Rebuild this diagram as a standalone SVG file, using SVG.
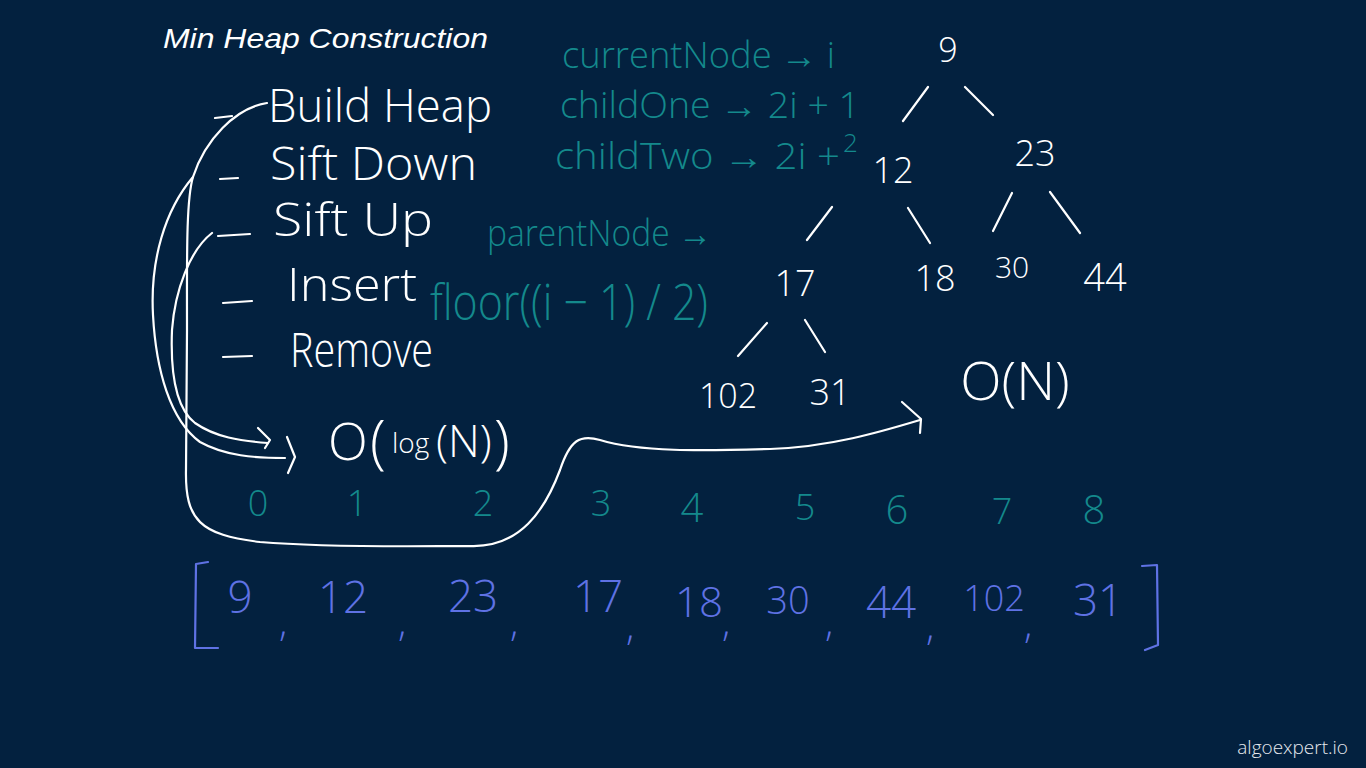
<svg xmlns="http://www.w3.org/2000/svg" width="1366" height="768" viewBox="0 0 1366 768">
<defs>
<style>
.bg{fill:#03213f}
.t{font-family:"Open Sans","Liberation Sans",sans-serif;font-weight:300}
.w{fill:#ffffff}
.tl{fill:#14898c}
.bl{fill:#5f72e4}
.st{stroke:#ffffff;stroke-width:2.2;fill:none;stroke-linecap:round;stroke-linejoin:round}
.stb{stroke:#5f72e4;stroke-width:2.2;fill:none;stroke-linecap:round;stroke-linejoin:round}
.mid{text-anchor:middle}
</style>
</defs>
<rect class="bg" x="0" y="0" width="1366" height="768"/>

<g id="title">
<text class="w" x="163" y="48" font-family="Liberation Sans, Arial, sans-serif" font-style="italic" font-size="28" textLength="325" lengthAdjust="spacingAndGlyphs">Min Heap Construction</text>
</g>

<g id="ops">
<path class="st" d="M215,118 L232,116 M220,179 L238,178 M218,236 L250,234 M223,303 L252,301 M223,357 L252,356"/>
<text class="t w" x="268" y="122" font-size="46" textLength="224" lengthAdjust="spacingAndGlyphs">Build Heap</text>
<text class="t w" x="270" y="180" font-size="46" textLength="207" lengthAdjust="spacingAndGlyphs">Sift Down</text>
<text class="t w" x="273" y="236" font-size="46" textLength="160" lengthAdjust="spacingAndGlyphs">Sift Up</text>
<text class="t w" x="287" y="301" font-size="46" textLength="130" lengthAdjust="spacingAndGlyphs">Insert</text>
<text class="t w" x="290" y="367" font-size="48" textLength="143" lengthAdjust="spacingAndGlyphs">Remove</text>
</g>

<g id="formulas">
<text class="t tl" x="562" y="68" font-size="36" textLength="273" lengthAdjust="spacingAndGlyphs">currentNode → i</text>
<text class="t tl" x="560" y="118" font-size="36" textLength="300" lengthAdjust="spacingAndGlyphs">childOne → 2i + 1</text>
<text class="t tl" x="555" y="169" font-size="36" textLength="285" lengthAdjust="spacingAndGlyphs">childTwo → 2i +</text>
<text class="t tl" x="843" y="152" font-size="26">2</text>
<text class="t tl" x="487" y="246" font-size="36" textLength="225" lengthAdjust="spacingAndGlyphs">parentNode →</text>
<text class="t tl" x="430" y="320" font-size="50" textLength="278" lengthAdjust="spacingAndGlyphs">floor((i − 1) / 2)</text>
</g>

<g id="tree-edges">
<path class="st" d="M903,121 L928,87 M965,87 L993,115 M807,240 L832,207 M908,208 L930,243 M993,231 L1012,193 M1050,192 L1080,233 M738,356 L767,323 M805,320 L825,352"/>
</g>
<g id="node-9"><text class="t w mid" x="948" y="62" font-size="34">9</text></g>
<g id="node-12"><text class="t w mid" x="893" y="183" font-size="36">12</text></g>
<g id="node-23"><text class="t w mid" x="1035" y="166" font-size="36">23</text></g>
<g id="node-17"><text class="t w mid" x="795" y="296" font-size="36">17</text></g>
<g id="node-18"><text class="t w mid" x="935" y="291" font-size="36">18</text></g>
<g id="node-30"><text class="t w mid" x="1012" y="278" font-size="30">30</text></g>
<g id="node-44"><text class="t w mid" x="1105" y="291" font-size="38">44</text></g>
<g id="node-102"><text class="t w mid" x="728" y="408" font-size="34">102</text></g>
<g id="node-31"><text class="t w mid" x="830" y="405" font-size="36">31</text></g>

<g id="complexity-n"><text class="t w mid" x="1015" y="400" font-size="54">O(N)</text></g>
<g id="complexity-log">
<text class="t w" x="328" y="460" font-size="52">O</text>
<text class="t w" x="370" y="462" font-size="58">(</text>
<text class="t w" x="392" y="453" font-size="28">log</text>
<text class="t w" x="436" y="457" font-size="44">(N)</text>
<text class="t w" x="494" y="462" font-size="58">)</text>
</g>

<g id="connectors">
<path class="st" d="M267,103 C235,108 205,140 193,177 C186,200 187,260 187,330 L186,470 C185,520 200,535 260,542 C330,548 420,546 470,546 C520,548 545,510 560,470 C570,440 580,434 600,440 C640,452 700,451 770,449 C830,447 880,432 920,420"/>
<path class="st" d="M902,402 L921,419 L920,433"/>
<path class="st" d="M193,177 C165,210 150,260 153,315 C156,370 170,420 200,442 C225,456 255,458 285,458"/>
<path class="st" d="M287,437 L295,457 L288,473"/>
<path class="st" d="M212,233 C190,250 175,290 172,330 C170,380 178,410 195,423 C215,437 240,441 268,443"/>
<path class="st" d="M258,428 L270,440 L265,448"/>
</g>

<g id="indices">
<text class="t tl mid" x="258" y="516" font-size="36">0</text>
<text class="t tl mid" x="357" y="516" font-size="36">1</text>
<text class="t tl mid" x="483" y="516" font-size="36">2</text>
<text class="t tl mid" x="601" y="516" font-size="36">3</text>
<text class="t tl mid" x="692" y="522" font-size="40">4</text>
<text class="t tl mid" x="805" y="520" font-size="36">5</text>
<text class="t tl mid" x="897" y="524" font-size="40">6</text>
<text class="t tl mid" x="1002" y="524" font-size="36">7</text>
<text class="t tl mid" x="1094" y="524" font-size="40">8</text>
</g>

<g id="array">
<path class="stb" d="M208,562 L196,564 L195,648 L218,648 M1142,566 L1157,565 L1158,645 L1145,650"/>
<text class="t bl mid" x="240" y="613" font-size="44">9</text>
<text class="t bl mid" x="343" y="613" font-size="44">12</text>
<text class="t bl mid" x="473" y="612" font-size="44">23</text>
<text class="t bl mid" x="598" y="612" font-size="44">17</text>
<text class="t bl mid" x="699" y="617" font-size="42">18</text>
<text class="t bl mid" x="788" y="614" font-size="38">30</text>
<text class="t bl mid" x="891" y="618" font-size="44">44</text>
<text class="t bl mid" x="994" y="611" font-size="36">102</text>
<text class="t bl mid" x="1098" y="616" font-size="44">31</text>
<text class="t bl" x="279" y="636" font-size="38">,</text>
<text class="t bl" x="398" y="636" font-size="38">,</text>
<text class="t bl" x="510" y="636" font-size="38">,</text>
<text class="t bl" x="626" y="640" font-size="38">,</text>
<text class="t bl" x="722" y="636" font-size="38">,</text>
<text class="t bl" x="825" y="636" font-size="38">,</text>
<text class="t bl" x="926" y="640" font-size="38">,</text>
<text class="t bl" x="1024" y="638" font-size="38">,</text>
</g>

<g id="watermark">
<text x="1348" y="754" font-family="Open Sans, Liberation Sans, sans-serif" font-weight="300" font-size="19" fill="#e6e9ee" text-anchor="end">algoexpert.io</text>
</g>
</svg>
